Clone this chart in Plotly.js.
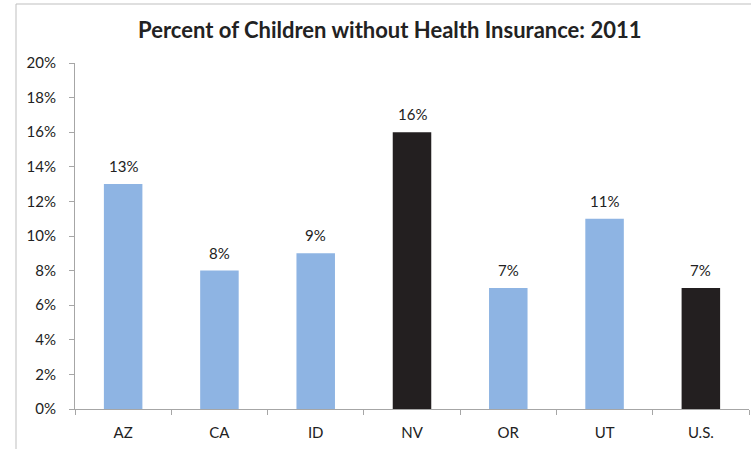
<!DOCTYPE html>
<html>
<head>
<meta charset="utf-8">
<script src="https://cdn.plot.ly/plotly-3.0.1.min.js"></script>
<style>html,body{margin:0;padding:0;background:#fff;}#chart{width:751px;height:449px;}</style>
</head>
<body>
<div id="chart"></div>
<script>
const categories = ["AZ", "CA", "ID", "NV", "OR", "UT", "U.S."];
const values = [13, 8, 9, 16, 7, 11, 7];
const labels = ["13%", "8%", "9%", "16%", "7%", "11%", "7%"];
const highlighted = [false, false, false, true, false, false, true];
const yTicks = [0, 2, 4, 6, 8, 10, 12, 14, 16, 18, 20];

const FONT = "Lato, 'Open Sans', sans-serif";
const TXT = "#222222";
const colors = highlighted.map(h => h ? "#231F20" : "#8EB4E3");

const trace = {
  type: "bar",
  x: categories,
  y: values,
  marker: {color: colors, line: {width: 0}},
  hoverinfo: "none"
};

const annotations = categories.map((c, i) => ({
  x: c, y: values[i], xref: "x", yref: "y",
  text: labels[i], showarrow: false,
  yanchor: "bottom", yshift: 7,
  font: {family: FONT, size: 15, color: TXT}
}));

const layout = {
  width: 751, height: 449,
  margin: {l: 75, r: 2, t: 63, b: 40},
  paper_bgcolor: "#fff", plot_bgcolor: "#fff",
  bargap: 0.6,
  showlegend: false,
  font: {family: FONT, size: 15, color: TXT},
  title: {
    text: "<b>Percent of Children without Health Insurance: 2011</b>",
    font: {family: FONT, size: 22, color: TXT},
    x: 0.519, xref: "container", xanchor: "center",
    y: 1 - 30/449, yref: "container", yanchor: "middle"
  },
  xaxis: {
    type: "category",
    showline: true, linecolor: "#A6A6A6", linewidth: 1,
    ticks: "outside", tickson: "boundaries", ticklen: 5, tickcolor: "#A6A6A6",
    ticklabelstandoff: 10,
    showgrid: false, zeroline: false,
    tickfont: {family: FONT, size: 15, color: TXT}
  },
  yaxis: {
    range: [0, 20],
    tickvals: yTicks,
    ticktext: yTicks.map(v => v + "%"),
    showline: true, linecolor: "#A6A6A6", linewidth: 1,
    ticks: "outside", ticklen: 5, tickcolor: "#A6A6A6",
    ticklabelstandoff: 10,
    showgrid: false, zeroline: false,
    tickfont: {family: FONT, size: 15, color: TXT}
  },
  annotations: annotations,
  shapes: [{
    type: "rect", xref: "paper", yref: "paper",
    x0: (16 - 75) / 674, x1: 1.2, y0: -0.3, y1: (409 - 4) / 346,
    line: {color: "#BFBFBF", width: 1}, fillcolor: "rgba(0,0,0,0)", layer: "below"
  }]
};

Plotly.newPlot("chart", [trace], layout, {staticPlot: true, displayModeBar: false});
</script>
</body>
</html>
